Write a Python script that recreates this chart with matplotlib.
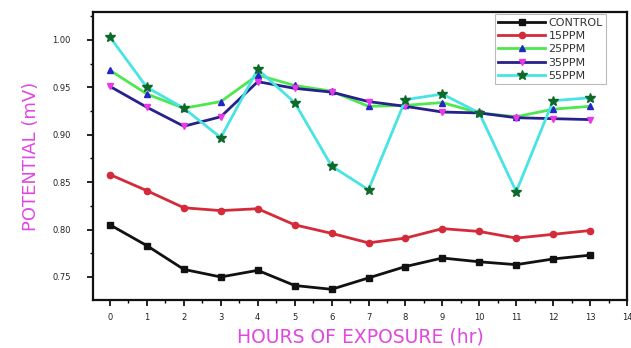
import matplotlib
matplotlib.use("Agg")
import matplotlib.pyplot as plt
from matplotlib.ticker import MultipleLocator, FormatStrFormatter

# Exposure time (hours)
hours = list(range(14))

# Measured potential (mV) for each treatment
control = [0.805, 0.783, 0.758, 0.750, 0.757, 0.741, 0.737, 0.749, 0.761, 0.770, 0.766, 0.763, 0.769, 0.773]
ppm15 = [0.858, 0.841, 0.823, 0.820, 0.822, 0.805, 0.796, 0.786, 0.791, 0.801, 0.798, 0.791, 0.795, 0.799]
ppm25 = [0.968, 0.943, 0.928, 0.935, 0.963, 0.952, 0.946, 0.930, 0.931, 0.934, 0.923, 0.919, 0.927, 0.930]
ppm35 = [0.951, 0.929, 0.909, 0.919, 0.956, 0.949, 0.945, 0.935, 0.930, 0.924, 0.923, 0.918, 0.917, 0.916]
ppm55 = [1.003, 0.950, 0.928, 0.897, 0.969, 0.934, 0.867, 0.842, 0.937, 0.943, 0.923, 0.840, 0.936, 0.939]

series_names = ["CONTROL", "15PPM", "25PPM", "35PPM", "55PPM"]

fig = plt.figure(figsize=(6.31, 3.48), dpi=100)
ax = fig.add_axes([0.1474, 0.1379, 0.8463, 0.8276])

styles = [
    dict(color="#111111", marker="s", mfc="#111111", mec="#111111", ms=4),
    dict(color="#d42a3a", marker="o", mfc="#d42a3a", mec="#d42a3a", ms=4.5),
    dict(color="#4ee84e", marker="^", mfc="#2424c8", mec="#2424c8", ms=5),
    dict(color="#28208c", marker="v", mfc="#e838e8", mec="#e838e8", ms=5),
    dict(color="#48e4e4", marker="*", mfc="#0e6a2a", mec="#0e6a2a", ms=7),
]

for name, values, st in zip(series_names, [control, ppm15, ppm25, ppm35, ppm55], styles):
    ax.plot(hours, values, lw=2.0, label=name, **st)

ax.set_xlim(-0.46, 14.0)
ax.set_ylim(0.7257, 1.0295)

ax.xaxis.set_major_locator(MultipleLocator(1))
ax.xaxis.set_minor_locator(MultipleLocator(0.5))
ax.yaxis.set_major_locator(MultipleLocator(0.05))
ax.yaxis.set_minor_locator(MultipleLocator(0.025))
ax.yaxis.set_major_formatter(FormatStrFormatter("%.2f"))

ax.tick_params(which="major", direction="out", length=4, width=1.2,
               labelsize=6, labelcolor="#222222")
ax.tick_params(axis="y", which="major", pad=12)
ax.tick_params(axis="x", which="major", pad=5)
ax.tick_params(which="minor", direction="out", length=2.5, width=1.0)

for sp in ax.spines.values():
    sp.set_linewidth(1.6)
    sp.set_color("#111111")

label_color = "#e048e0"
ax.set_xlabel("HOURS OF EXPOSURE (hr)", color=label_color, fontsize=13.5, labelpad=4)
ax.set_ylabel("POTENTIAL (mV)", color=label_color, fontsize=13, labelpad=9)

leg = ax.legend(loc="upper right", bbox_to_anchor=(0.965, 1.0), fontsize=8,
                frameon=True, fancybox=False, handlelength=4.2, handletextpad=0.3,
                labelspacing=0.3, borderpad=0.3, borderaxespad=0.2)
leg.get_frame().set_edgecolor("#aaaaaa")
leg.get_frame().set_linewidth(0.8)
for t in leg.get_texts():
    t.set_color("#333333")

fig.savefig("out.png", dpi=100)
